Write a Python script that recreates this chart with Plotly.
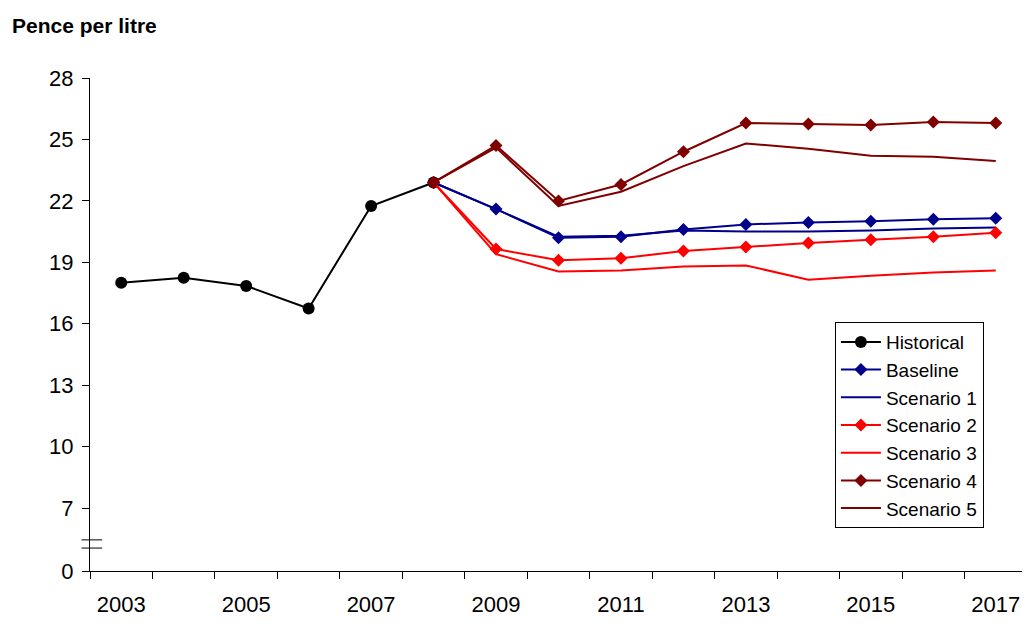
import plotly.graph_objects as go

years_hist = [2003, 2004, 2005, 2006, 2007, 2008]
historical = [18.0, 18.25, 17.85, 16.75, 21.75, 22.9]

years_fc = list(range(2008, 2018))
baseline = [22.9, 21.6, 20.2, 20.25, 20.6, 20.85, 20.95, 21.0, 21.1, 21.15]
scenario1 = [22.9, 21.6, 20.25, 20.3, 20.55, 20.5, 20.5, 20.55, 20.65, 20.7]
scenario2 = [22.9, 19.65, 19.1, 19.2, 19.55, 19.75, 19.95, 20.1, 20.25, 20.45]
scenario3 = [22.9, 19.4, 18.55, 18.6, 18.8, 18.85, 18.15, 18.35, 18.5, 18.6]
scenario4 = [22.9, 24.7, 22.0, 22.8, 24.4, 25.8, 25.75, 25.7, 25.85, 25.8]
scenario5 = [22.9, 24.6, 21.75, 22.45, 23.7, 24.8, 24.55, 24.2, 24.15, 23.95]

ytick_vals = [3.93, 7, 10, 13, 16, 19, 22, 25, 28]
ytick_text = ["0", "7", "10", "13", "16", "19", "22", "25", "28"]

fig = go.Figure()
fig.add_trace(go.Scatter(x=years_hist, y=historical, name="Historical", mode="lines+markers",
                         line=dict(color="black", width=2), marker=dict(symbol="circle", size=12)))
series = [
    ("Baseline", baseline, "#00008B", True),
    ("Scenario 1", scenario1, "#00008B", False),
    ("Scenario 2", scenario2, "#FF0000", True),
    ("Scenario 3", scenario3, "#FF0000", False),
    ("Scenario 4", scenario4, "#800000", True),
    ("Scenario 5", scenario5, "#800000", False),
]
for name, vals, col, mk in series:
    fig.add_trace(go.Scatter(x=years_fc, y=vals, name=name,
                             mode="lines+markers" if mk else "lines",
                             line=dict(color=col, width=2),
                             marker=dict(symbol="diamond", size=10)))

# axis break marks
for yb in [5.05, 5.45]:
    fig.add_shape(type="line", xref="paper", yref="y", x0=-0.009, x1=0.013, y0=yb, y1=yb,
                  line=dict(color="black", width=1))

fig.update_layout(
    width=1022, height=620,
    margin=dict(l=82, r=3, t=70, b=57, autoexpand=False),
    plot_bgcolor="white", paper_bgcolor="white",
    font=dict(family="Liberation Sans, Arial", size=22, color="black"),
    showlegend=True,
    legend=dict(x=0.795, y=0.505, xanchor="left", yanchor="top",
                bordercolor="black", borderwidth=1, font=dict(size=19),
                tracegroupgap=0, itemwidth=40),
    annotations=[dict(text="<b>Pence per litre</b>", xref="paper", yref="paper",
                      x=-0.085, y=1.107, xanchor="left", yanchor="middle",
                      showarrow=False, font=dict(size=21))],
)
fig.update_xaxes(range=[2002.5, 2017.5], tickvals=list(range(2003, 2018, 2)), automargin=False,
                 ticks="", showgrid=False, showline=True, linecolor="black", zeroline=False,
                 ticklabelstandoff=14,
                 minor=dict(tickvals=[y + 0.5 for y in range(2002, 2018)], ticks="outside",
                            ticklen=7, tickcolor="black", showgrid=False))
fig.update_yaxes(range=[3.93, 28], tickvals=ytick_vals, ticktext=ytick_text, automargin=False,
                 ticks="outside", ticklen=7, tickcolor="black", ticklabelstandoff=4,
                 showgrid=False, showline=True, linecolor="black", zeroline=False)

fig.write_html("out.html")
